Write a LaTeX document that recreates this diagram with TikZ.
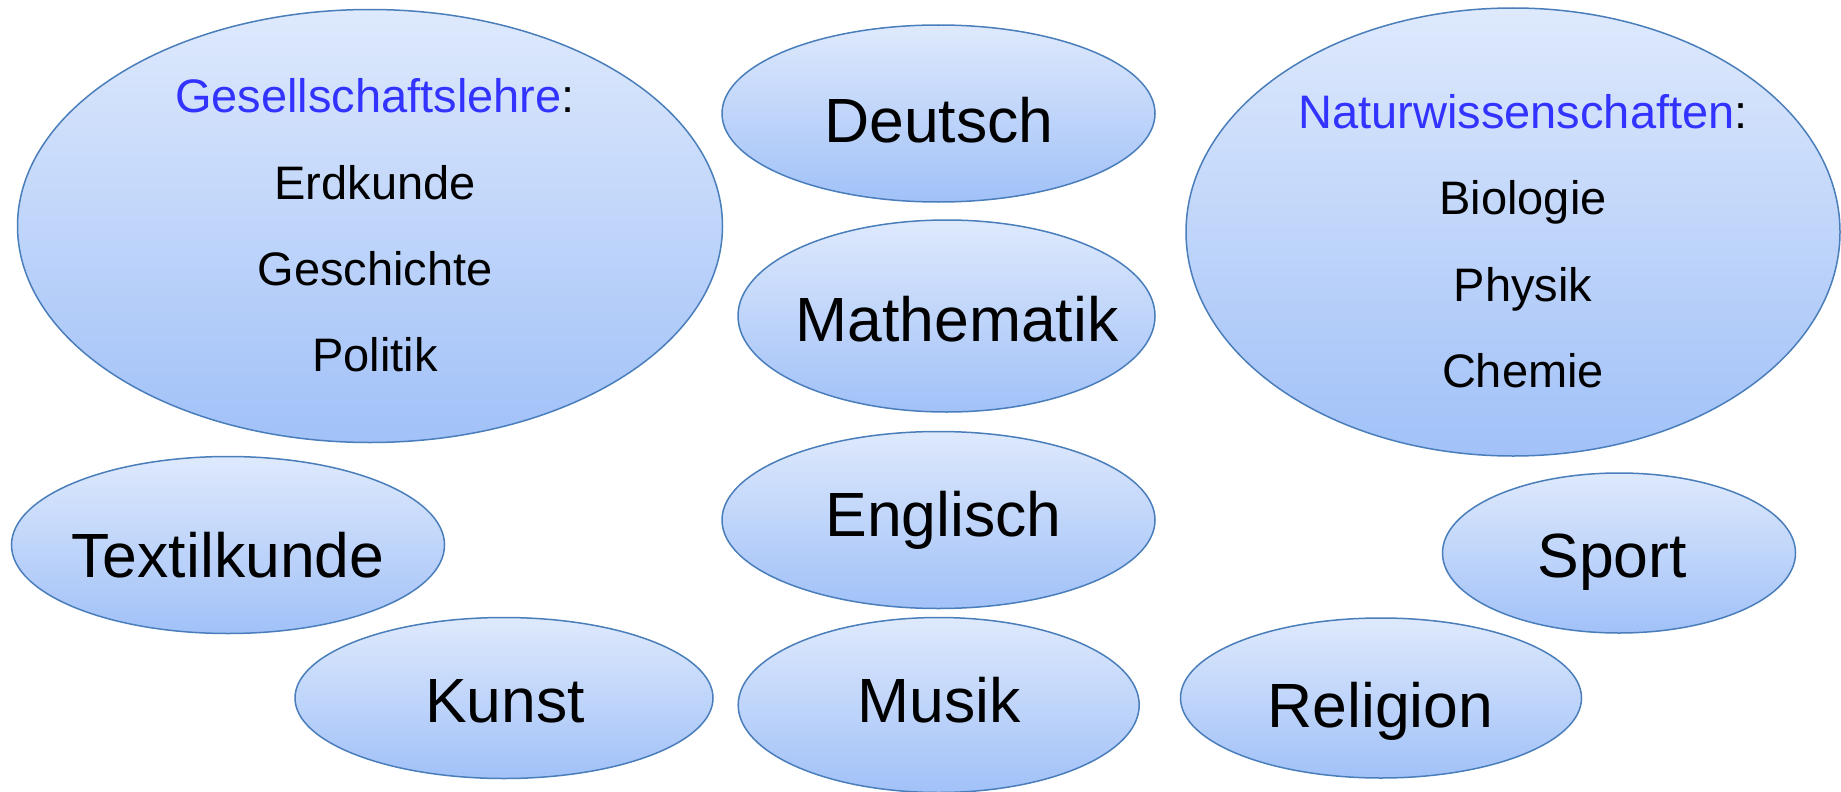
\documentclass[tikz,border=0pt]{standalone}
\usepackage{fontspec}
\setmainfont{Liberation Sans}
\usetikzlibrary{shapes.geometric}
\definecolor{edgeblue}{RGB}{74,126,187}
\definecolor{topfill}{RGB}{222,233,252}
\definecolor{botfill}{RGB}{161,193,248}
\definecolor{headblue}{RGB}{51,51,255}
\tikzset{
  bubble/.style={ellipse, draw=edgeblue, line width=1.5pt, top color=topfill, bottom color=botfill, inner sep=0pt},
  bigtext/.style={anchor=base, inner sep=0pt, font=\fontsize{62.5}{70}\selectfont},
  smalltext/.style={anchor=base, inner sep=0pt, font=\fontsize{47}{56}\selectfont},
}
\begin{document}
\begin{tikzpicture}[x=1pt,y=-1pt]
\useasboundingbox (0,0) rectangle (1841,792);
% ellipses
\node[bubble, minimum width=705pt, minimum height=433pt] (gl) at (370,226) {};
\node[bubble, minimum width=433pt, minimum height=177pt] (de) at (938.5,113.5) {};
\node[bubble, minimum width=417pt, minimum height=192pt] (ma) at (946.5,316) {};
\node[bubble, minimum width=654pt, minimum height=448pt] (nw) at (1513,232) {};
\node[bubble, minimum width=433pt, minimum height=177pt] (en) at (938.5,520) {};
\node[bubble, minimum width=433pt, minimum height=177pt] (te) at (228,545) {};
\node[bubble, minimum width=418pt, minimum height=161pt] (ku) at (504,698) {};
\node[bubble, minimum width=401pt, minimum height=175pt] (mu) at (938.7,705) {};
\node[bubble, minimum width=353pt, minimum height=160pt] (sp) at (1619,553) {};
\node[bubble, minimum width=401pt, minimum height=160pt] (re) at (1381,698) {};
% group texts
\node[smalltext] (glh) at (375,112.7) {{\color{headblue}Gesellschaftslehre}:};
\node[smalltext] (gl1) at (375,199) {Erdkunde};
\node[smalltext] (gl2) at (375,285) {Geschichte};
\node[smalltext] (gl3) at (375,371) {Politik};
\node[smalltext] (nwh) at (1523,128) {{\color{headblue}Naturwissenschaften}:};
\node[smalltext] (nw1) at (1523,214) {Biologie};
\node[smalltext] (nw2) at (1523,301) {Physik};
\node[smalltext] (nw3) at (1523,387) {Chemie};
% single subjects
\node[bigtext] (det) at (939,142) {Deutsch};
\node[bigtext] (mat) at (957,341) {Mathematik};
\node[bigtext] (ent) at (943.5,536) {Englisch};
\node[bigtext] (tet) at (228,577) {Textilkunde};
\node[bigtext] (kut) at (505,722) {Kunst};
\node[bigtext] (mut) at (939,722) {Musik};
\node[bigtext] (spt) at (1612,577) {Sport};
\node[bigtext] (ret) at (1380.5,727) {Religion};
\end{tikzpicture}
\end{document}
